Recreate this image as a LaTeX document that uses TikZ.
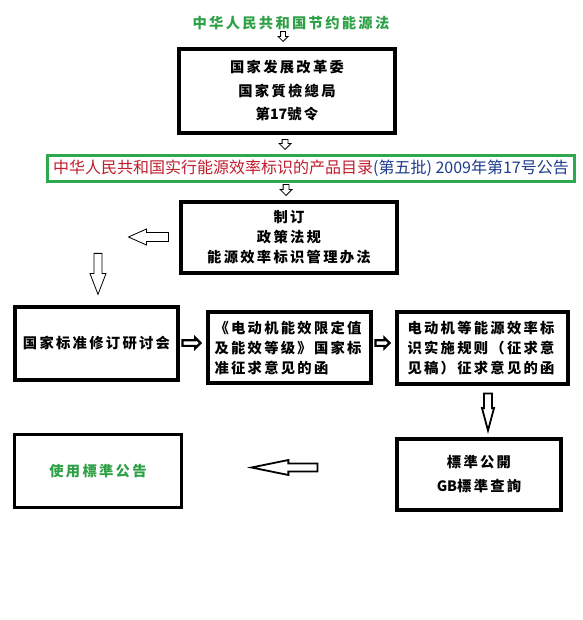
\documentclass[tikz,border=0pt]{standalone}
\usepackage{fontspec}
\setmainfont{Noto Sans CJK SC}
\newfontfamily\boxfont[LetterSpace=16]{Noto Sans CJK SC}
\newfontfamily\numfont{Noto Sans CJK SC}
\definecolor{lawgreen}{RGB}{46, 160, 70}
\definecolor{framegreen}{RGB}{46, 168, 76}
\definecolor{catred}{RGB}{192, 30, 45}
\definecolor{catblue}{RGB}{30, 60, 140}
\usetikzlibrary{shapes.arrows}
\tikzset{
	stepbox/.style={rectangle, draw=black, line width=4pt, fill=white, inner sep=0pt, align=center, font=\boxfont\bfseries\fontsize{14.3}{20}\selectfont},
	leftbox/.style={stepbox, align=left, text width=150pt},
	catbox/.style={rectangle, draw=framegreen, line width=2.7pt, fill=white, inner sep=0pt, font=\fontsize{16}{18}\selectfont},
	hollow/.style={single arrow, draw=black, fill=white, line width=0.8pt, inner sep=0pt, text height=#1, text depth=0pt, single arrow head indent=0pt, anchor=tip},
	hollow/.default=5pt,
	boldhollow/.style={hollow=#1, line width=2.2pt},
	boldhollow/.default=3.5pt,
}

\begin{document}
\begin{tikzpicture}[x=1pt, y=-1pt]
	\useasboundingbox (0,0) rectangle (582,620);
	% top of the chain
	\node[font=\boxfont\bfseries\fontsize{14.3}{16}\selectfont, text=lawgreen] (law) at (291,23) {中华人民共和国节约能源法};
	\node[hollow=4pt, rotate=270, minimum height=10pt, minimum width=9pt, single arrow head extend=2.5pt] (ar1) at (283,42) {};
	\node[stepbox, minimum width=216pt, minimum height=84pt, font=\boxfont\bfseries\fontsize{14.3}{23.5}\selectfont] (order) at (287,91) {国家发展改革委\\国家質檢總局\\第{\numfont\bfseries 17}號令};
	\node[hollow=5pt, rotate=270, minimum height=10pt, minimum width=11pt, single arrow head extend=3pt] (ar2) at (285,150) {};
	\node[catbox, minimum width=527pt, minimum height=26pt] (catalog) at (311,168.5) {\textcolor{catred}{中华人民共和国实行能源效率标识的产品目录}\textcolor{catblue}{(第五批) 2009年第17号公告}};
	\node[hollow=5pt, rotate=270, minimum height=11pt, minimum width=11pt, single arrow head extend=3pt] (ar3) at (286,196) {};
	\node[stepbox, minimum width=216pt, minimum height=71pt] (rules) at (289,237.5) {制订\\政策法规\\能源效率标识管理办法};
	% turn to the left
	\node[hollow=8.2pt, rotate=180, minimum height=40pt, minimum width=15.2pt, single arrow head extend=3.5pt, single arrow tip angle=48] (ar4) at (127.5,237) {};
	\node[hollow=7.2pt, rotate=270, minimum height=41pt, minimum width=15.2pt, single arrow head extend=4pt, single arrow tip angle=42] (ar5) at (98,295.5) {};
	% middle row
	\node[stepbox, minimum width=163pt, minimum height=73pt] (meeting) at (96.5,343.5) {国家标准修订研讨会};
	\node[boldhollow, minimum height=18pt, minimum width=8pt, single arrow head extend=2.25pt, single arrow tip angle=90] (ar6) at (202,343) {};
	\node[leftbox, minimum width=163pt, minimum height=71pt] (draft) at (289.5,347.5) {《电动机能效限定值\\及能效等级》国家标\\准征求意见的函};
	\node[boldhollow, minimum height=14pt, minimum width=8pt, single arrow head extend=2.25pt, single arrow tip angle=90] (ar7) at (391,343) {};
	\node[leftbox, minimum width=171pt, minimum height=72pt] (impl) at (482.5,348) {电动机等能源效率标\\识实施规则（征求意\\见稿）征求意见的函};
	% bottom row
	\node[boldhollow=6.2pt, line width=1.8pt, rotate=270, minimum height=37pt, minimum width=10.2pt, single arrow head extend=2pt, single arrow tip angle=30] (ar8) at (488,434) {};
	\node[stepbox, minimum width=164pt, minimum height=71pt, font=\boxfont\bfseries\fontsize{14.3}{24}\selectfont] (query) at (479,474.5) {標準公開\\{\numfont\bfseries GB}標準查詢};
	\node[boldhollow=6.2pt, line width=1.8pt, rotate=180, minimum height=66pt, minimum width=13.2pt, single arrow head extend=3.5pt, single arrow tip angle=23] (ar9) at (247,467.5) {};
	\node[stepbox, line width=3pt, minimum width=167pt, minimum height=73pt, text=lawgreen] (usage) at (98,471) {使用標準公告};
\end{tikzpicture}
\end{document}
